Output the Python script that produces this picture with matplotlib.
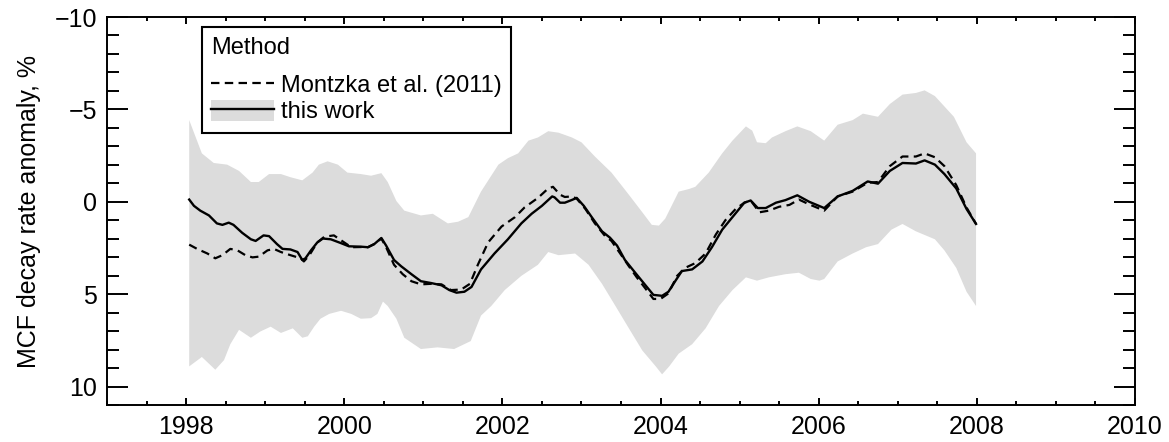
import numpy as np
import matplotlib
matplotlib.use('Agg')
import matplotlib.pyplot as plt
from matplotlib.patches import Patch
from matplotlib.lines import Line2D
from matplotlib.ticker import MultipleLocator

# Banda de incertidumbre: borde superior e inferior (anio, %)
banda_sup_x = [1998.04, 1998.20, 1998.35, 1998.52, 1998.67, 1998.82, 1998.92, 1999.05, 1999.20, 1999.32,
               1999.47, 1999.60, 1999.68, 1999.79, 1999.92, 2000.04, 2000.21, 2000.34, 2000.47, 2000.55,
               2000.66, 2000.76, 2000.97, 2001.12, 2001.31, 2001.44, 2001.57, 2001.73, 2001.95, 2002.07,
               2002.20, 2002.33, 2002.45, 2002.58, 2002.71, 2002.88, 2003.00, 2003.17, 2003.38, 2003.60,
               2003.77, 2003.89, 2003.98, 2004.06, 2004.23, 2004.36, 2004.44, 2004.61, 2004.78, 2004.91,
               2005.08, 2005.16, 2005.22, 2005.33, 2005.41, 2005.58, 2005.73, 2005.90, 2006.07, 2006.24,
               2006.43, 2006.56, 2006.75, 2006.90, 2007.06, 2007.23, 2007.34, 2007.47, 2007.71, 2007.87,
               2007.99]
banda_sup_y = [-4.42, -2.62, -2.10, -2.01, -1.67, -1.07, -1.07, -1.50, -1.50, -1.33,
               -1.16, -1.58, -2.01, -2.19, -2.01, -1.58, -1.50, -1.41, -1.55, -1.07,
               -0.04, 0.48, 0.74, 0.65, 1.17, 1.08, 0.83, -0.55, -2.01, -2.36,
               -2.62, -3.31, -3.48, -3.82, -3.74, -3.48, -3.22, -2.45, -1.58, -0.38,
               0.57, 1.25, 1.29, 0.91, -0.55, -0.69, -0.81, -1.58, -2.62, -3.31,
               -4.08, -3.85, -3.22, -3.17, -3.48, -3.82, -4.08, -3.82, -3.31, -4.17,
               -4.42, -4.77, -4.60, -5.29, -5.80, -5.89, -6.03, -5.72, -4.60, -3.22,
               -2.62]

banda_inf_x = [1998.04, 1998.20, 1998.37, 1998.48, 1998.56, 1998.67, 1998.82, 1998.94, 1999.07, 1999.20,
               1999.35, 1999.47, 1999.54, 1999.62, 1999.70, 1999.81, 1999.96, 2000.09, 2000.21, 2000.34,
               2000.42, 2000.49, 2000.55, 2000.66, 2000.76, 2000.97, 2001.18, 2001.39, 2001.60, 2001.73,
               2001.86, 2002.03, 2002.24, 2002.45, 2002.58, 2002.71, 2002.92, 2003.09, 2003.26, 2003.43,
               2003.60, 2003.77, 2003.94, 2004.02, 2004.11, 2004.23, 2004.40, 2004.57, 2004.74, 2004.91,
               2005.08, 2005.22, 2005.37, 2005.58, 2005.75, 2005.90, 2006.01, 2006.07, 2006.24, 2006.43,
               2006.60, 2006.75, 2006.92, 2007.06, 2007.23, 2007.47, 2007.59, 2007.74, 2007.87, 2007.99]
banda_inf_y = [8.91, 8.40, 9.09, 8.57, 7.71, 6.93, 7.36, 7.02, 6.76, 7.10,
               6.85, 7.36, 7.28, 6.76, 6.33, 6.07, 5.90, 6.07, 6.33, 6.30,
               6.07, 5.40, 5.64, 6.33, 7.36, 7.97, 7.88, 7.97, 7.54, 6.16,
               5.64, 4.78, 4.01, 3.41, 2.72, 2.89, 2.80, 3.41, 4.44, 5.64,
               6.85, 8.05, 8.91, 9.34, 8.91, 8.22, 7.71, 6.85, 5.64, 4.78,
               4.09, 4.27, 4.09, 3.92, 3.84, 4.18, 4.27, 4.18, 3.23, 2.80,
               2.46, 2.29, 1.51, 1.20, 1.60, 2.03, 2.63, 3.58, 4.87, 5.64]

# Este trabajo (linea continua)
trabajo_x = [1998.04, 1998.10, 1998.18, 1998.29, 1998.39, 1998.46, 1998.54, 1998.60, 1998.71, 1998.82,
             1998.88, 1998.98, 1999.05, 1999.15, 1999.22, 1999.32, 1999.41, 1999.47, 1999.51, 1999.58,
             1999.66, 1999.73, 1999.83, 1999.96, 2000.06, 2000.21, 2000.30, 2000.38, 2000.47, 2000.53,
             2000.63, 2000.72, 2000.85, 2000.97, 2001.10, 2001.23, 2001.33, 2001.42, 2001.52, 2001.61,
             2001.73, 2001.90, 2002.07, 2002.24, 2002.37, 2002.50, 2002.63, 2002.66, 2002.73, 2002.79,
             2002.88, 2002.94, 2003.03, 2003.13, 2003.26, 2003.36, 2003.45, 2003.55, 2003.68, 2003.81,
             2003.91, 2004.02, 2004.10, 2004.19, 2004.27, 2004.40, 2004.53, 2004.65, 2004.78, 2004.91,
             2005.06, 2005.14, 2005.23, 2005.33, 2005.46, 2005.58, 2005.73, 2005.88, 2006.07, 2006.24,
             2006.43, 2006.62, 2006.75, 2006.90, 2007.06, 2007.23, 2007.34, 2007.47, 2007.59, 2007.74,
             2007.87, 2007.99]
trabajo_y = [-0.12, 0.22, 0.48, 0.74, 1.17, 1.25, 1.13, 1.25, 1.68, 2.03,
             2.12, 1.82, 1.86, 2.29, 2.55, 2.58, 2.72, 3.15, 3.06, 2.63,
             2.20, 1.99, 2.03, 2.24, 2.41, 2.43, 2.46, 2.29, 1.96, 2.37,
             3.15, 3.49, 3.92, 4.30, 4.40, 4.52, 4.78, 4.92, 4.87, 4.61,
             3.66, 2.80, 2.03, 1.17, 0.65, 0.22, -0.29, -0.24, 0.05, 0.05,
             -0.10, -0.21, 0.22, 0.83, 1.60, 1.94, 2.37, 3.15, 3.84, 4.52,
             5.04, 5.09, 4.87, 4.27, 3.75, 3.66, 3.23, 2.46, 1.51, 0.83,
             0.05, -0.07, 0.34, 0.34, 0.05, -0.09, -0.35, 0.00, 0.34, -0.29,
             -0.59, -1.10, -0.98, -1.67, -2.10, -2.07, -2.24, -2.01, -1.50, -0.72,
             0.39, 1.20]

# Montzka et al. (2011) (linea a trazos)
montzka_x = [1998.04, 1998.14, 1998.27, 1998.37, 1998.46, 1998.56, 1998.65, 1998.75, 1998.84, 1998.92,
             1999.03, 1999.11, 1999.20, 1999.32, 1999.45, 1999.49, 1999.56, 1999.66, 1999.75, 1999.87,
             2000.00, 2000.09, 2000.21, 2000.30, 2000.38, 2000.47, 2000.53, 2000.63, 2000.74, 2000.85,
             2000.97, 2001.10, 2001.23, 2001.35, 2001.48, 2001.59, 2001.69, 2001.82, 2001.99, 2002.16,
             2002.28, 2002.45, 2002.58, 2002.64, 2002.73, 2002.79, 2002.88, 2002.94, 2003.05, 2003.17,
             2003.30, 2003.38, 2003.49, 2003.60, 2003.70, 2003.81, 2003.91, 2004.00, 2004.10, 2004.21,
             2004.31, 2004.44, 2004.57, 2004.70, 2004.82, 2004.95, 2005.06, 2005.14, 2005.25, 2005.37,
             2005.50, 2005.63, 2005.75, 2005.88, 2006.07, 2006.24, 2006.43, 2006.62, 2006.75, 2006.90,
             2007.06, 2007.23, 2007.34, 2007.47, 2007.59, 2007.74, 2007.87, 2007.99]
montzka_y = [2.32, 2.55, 2.80, 3.06, 2.89, 2.55, 2.63, 2.89, 3.01, 2.97,
             2.63, 2.55, 2.72, 2.89, 3.06, 3.23, 2.89, 2.20, 1.89, 1.82,
             2.20, 2.46, 2.45, 2.46, 2.29, 1.99, 2.46, 3.41, 3.92, 4.30,
             4.47, 4.44, 4.47, 4.78, 4.75, 4.44, 3.41, 2.20, 1.34, 0.83,
             0.31, -0.21, -0.72, -0.81, -0.38, -0.26, -0.29, -0.17, 0.39, 1.17,
             1.86, 2.12, 2.80, 3.49, 4.09, 4.70, 5.26, 5.26, 4.96, 4.01,
             3.58, 3.32, 2.80, 1.77, 1.00, 0.39, 0.05, -0.07, 0.57, 0.48,
             0.27, 0.17, -0.12, 0.14, 0.48, -0.29, -0.55, -1.03, -1.07, -1.93,
             -2.45, -2.45, -2.62, -2.41, -1.93, -0.90, 0.31, 1.20]

gris = '#dcdcdc'
trazos = (0, (3.8, 2.4))

plt.rcParams['font.family'] = ['Liberation Sans', 'DejaVu Sans']

fig = plt.figure(figsize=(11.69, 4.42), dpi=100)
ax = fig.add_axes([0.0915, 0.0837, 0.8794, 0.8778])

# banda como poligono: borde superior ida, borde inferior vuelta
ax.fill(np.concatenate([banda_sup_x, banda_inf_x[::-1]]),
        np.concatenate([banda_sup_y, banda_inf_y[::-1]]),
        color=gris, lw=0, zorder=1)
ax.plot(trabajo_x, trabajo_y, color='k', lw=1.7, zorder=3)
ax.plot(montzka_x, montzka_y, color='k', lw=1.6, ls=trazos, zorder=3)

ax.set_xlim(1997, 2010)
ax.set_ylim(11, -10)
ax.xaxis.set_major_locator(MultipleLocator(2))
ax.xaxis.set_minor_locator(MultipleLocator(0.5))
ax.yaxis.set_major_locator(MultipleLocator(5))
ax.yaxis.set_minor_locator(MultipleLocator(1))

ax.tick_params(which='both', direction='in', top=True, right=True, width=1.4, labelsize=18)
ax.tick_params(axis='y', which='major', length=15, pad=7)
ax.tick_params(axis='y', which='minor', length=8.5)
ax.tick_params(axis='x', which='major', length=5, pad=7)
ax.tick_params(axis='x', which='minor', length=2.7)
for s in ax.spines.values():
    s.set_linewidth(1.4)

ax.set_ylabel('MCF decay rate anomaly, %', fontsize=18, labelpad=10)

h_montzka = Line2D([], [], color='k', lw=1.6, ls=trazos)
h_trabajo = (Patch(facecolor=gris, edgecolor='none'), Line2D([], [], color='k', lw=1.7))
leg = ax.legend([h_montzka, h_trabajo], ['Montzka et al. (2011)', 'this work'],
                title='Method', loc='upper left', bbox_to_anchor=(0.0924, 0.974),
                borderaxespad=0, fontsize=17, title_fontsize=17, alignment='left',
                fancybox=False, edgecolor='k', framealpha=1, handlelength=2.65,
                handleheight=1.0, handletextpad=0.3, labelspacing=0.1, borderpad=0.4)
leg.get_frame().set_linewidth(1.5)
leg._legend_box.sep = 11

fig.savefig('out.png', dpi=100)
